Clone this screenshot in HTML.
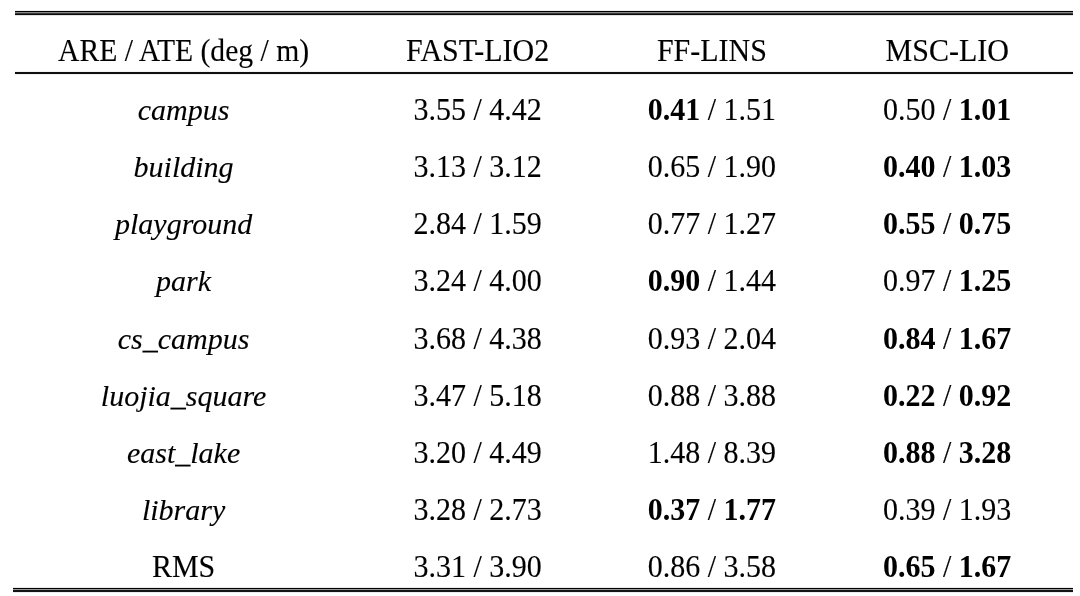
<!DOCTYPE html><html><head><meta charset="utf-8"><style>html,body{margin:0;padding:0;background:#fff;width:1080px;height:596px;overflow:hidden}svg{display:block}text{font-family:"Liberation Serif","Times New Roman",serif;font-size:30px;fill:#000;stroke:#000;stroke-width:0.12px;white-space:pre}tspan[font-weight]{stroke-width:0}</style></head><body>
<svg width="1080" height="596" viewBox="0 0 1080 596">
<rect x="15" y="10" width="1058" height="1" fill="#ededed"/>
<rect x="15" y="11" width="1058" height="1" fill="#000"/>
<rect x="15" y="12" width="1058" height="1" fill="#888"/>
<rect x="15" y="13" width="1058" height="1" fill="#3a3a3a"/>
<rect x="15" y="14" width="1058" height="1" fill="#0c0c0c"/>
<rect x="15" y="15" width="1058" height="1" fill="#e4e4e4"/>
<rect x="15" y="71" width="1058" height="1" fill="#f2f2f2"/>
<rect x="15" y="72" width="1058" height="2" fill="#0e0e0e"/>
<rect x="15" y="74" width="1058" height="1" fill="#f0f0f0"/>
<rect x="13" y="587" width="1060" height="1" fill="#e8e8e8"/>
<rect x="13" y="588" width="1060" height="1" fill="#000"/>
<rect x="13" y="589" width="1060" height="1" fill="#999"/>
<rect x="13" y="590" width="1060" height="2" fill="#141414"/>
<rect x="13" y="592" width="1060" height="1" fill="#ececec"/>
<text transform="translate(183.6 60.9) scale(0.988 1.045)" text-anchor="middle" xml:space="preserve">ARE / ATE (deg / m)</text>
<text transform="translate(477.6 60.9) scale(1 1.045)" text-anchor="middle" xml:space="preserve">FAST-LIO2</text>
<text transform="translate(711.9 60.9) scale(1 1.045)" text-anchor="middle" xml:space="preserve">FF-LINS</text>
<text transform="translate(947.2 60.9) scale(1 1.045)" text-anchor="middle" xml:space="preserve">MSC-LIO</text>
<text transform="translate(183.6 120.0) scale(1 1.0)" text-anchor="middle" font-style="italic">campus</text>
<text transform="translate(477.6 120.0) scale(1 1.08)" text-anchor="middle" xml:space="preserve">3.55 / 4.42</text>
<text transform="translate(711.9 120.0) scale(1 1.08)" text-anchor="middle" xml:space="preserve"><tspan font-weight="bold" stroke="none">0.41</tspan> / 1.51</text>
<text transform="translate(947.2 120.0) scale(1 1.08)" text-anchor="middle" xml:space="preserve">0.50 / <tspan font-weight="bold" stroke="none">1.01</tspan></text>
<text transform="translate(183.6 177.16) scale(1 1.0)" text-anchor="middle" font-style="italic">building</text>
<text transform="translate(477.6 177.16) scale(1 1.08)" text-anchor="middle" xml:space="preserve">3.13 / 3.12</text>
<text transform="translate(711.9 177.16) scale(1 1.08)" text-anchor="middle" xml:space="preserve">0.65 / 1.90</text>
<text transform="translate(947.2 177.16) scale(1 1.08)" text-anchor="middle" xml:space="preserve"><tspan font-weight="bold" stroke="none">0.40</tspan> / <tspan font-weight="bold" stroke="none">1.03</tspan></text>
<text transform="translate(183.6 234.32) scale(1 1.0)" text-anchor="middle" font-style="italic">playground</text>
<text transform="translate(477.6 234.32) scale(1 1.08)" text-anchor="middle" xml:space="preserve">2.84 / 1.59</text>
<text transform="translate(711.9 234.32) scale(1 1.08)" text-anchor="middle" xml:space="preserve">0.77 / 1.27</text>
<text transform="translate(947.2 234.32) scale(1 1.08)" text-anchor="middle" xml:space="preserve"><tspan font-weight="bold" stroke="none">0.55</tspan> / <tspan font-weight="bold" stroke="none">0.75</tspan></text>
<text transform="translate(183.6 291.48) scale(1 1.0)" text-anchor="middle" font-style="italic">park</text>
<text transform="translate(477.6 291.48) scale(1 1.08)" text-anchor="middle" xml:space="preserve">3.24 / 4.00</text>
<text transform="translate(711.9 291.48) scale(1 1.08)" text-anchor="middle" xml:space="preserve"><tspan font-weight="bold" stroke="none">0.90</tspan> / 1.44</text>
<text transform="translate(947.2 291.48) scale(1 1.08)" text-anchor="middle" xml:space="preserve">0.97 / <tspan font-weight="bold" stroke="none">1.25</tspan></text>
<text transform="translate(183.6 348.64) scale(1 1.0)" text-anchor="middle" font-style="italic">cs_campus</text>
<text transform="translate(477.6 348.64) scale(1 1.08)" text-anchor="middle" xml:space="preserve">3.68 / 4.38</text>
<text transform="translate(711.9 348.64) scale(1 1.08)" text-anchor="middle" xml:space="preserve">0.93 / 2.04</text>
<text transform="translate(947.2 348.64) scale(1 1.08)" text-anchor="middle" xml:space="preserve"><tspan font-weight="bold" stroke="none">0.84</tspan> / <tspan font-weight="bold" stroke="none">1.67</tspan></text>
<text transform="translate(183.6 405.8) scale(1 1.0)" text-anchor="middle" font-style="italic">luojia_square</text>
<text transform="translate(477.6 405.8) scale(1 1.08)" text-anchor="middle" xml:space="preserve">3.47 / 5.18</text>
<text transform="translate(711.9 405.8) scale(1 1.08)" text-anchor="middle" xml:space="preserve">0.88 / 3.88</text>
<text transform="translate(947.2 405.8) scale(1 1.08)" text-anchor="middle" xml:space="preserve"><tspan font-weight="bold" stroke="none">0.22</tspan> / <tspan font-weight="bold" stroke="none">0.92</tspan></text>
<text transform="translate(183.6 462.96) scale(1 1.0)" text-anchor="middle" font-style="italic">east_lake</text>
<text transform="translate(477.6 462.96) scale(1 1.08)" text-anchor="middle" xml:space="preserve">3.20 / 4.49</text>
<text transform="translate(711.9 462.96) scale(1 1.08)" text-anchor="middle" xml:space="preserve">1.48 / 8.39</text>
<text transform="translate(947.2 462.96) scale(1 1.08)" text-anchor="middle" xml:space="preserve"><tspan font-weight="bold" stroke="none">0.88</tspan> / <tspan font-weight="bold" stroke="none">3.28</tspan></text>
<text transform="translate(183.6 520.12) scale(1 1.0)" text-anchor="middle" font-style="italic">library</text>
<text transform="translate(477.6 520.12) scale(1 1.08)" text-anchor="middle" xml:space="preserve">3.28 / 2.73</text>
<text transform="translate(711.9 520.12) scale(1 1.08)" text-anchor="middle" xml:space="preserve"><tspan font-weight="bold" stroke="none">0.37</tspan> / <tspan font-weight="bold" stroke="none">1.77</tspan></text>
<text transform="translate(947.2 520.12) scale(1 1.08)" text-anchor="middle" xml:space="preserve">0.39 / 1.93</text>
<text transform="translate(183.6 577.28) scale(1 1.045)" text-anchor="middle">RMS</text>
<text transform="translate(477.6 577.28) scale(1 1.08)" text-anchor="middle" xml:space="preserve">3.31 / 3.90</text>
<text transform="translate(711.9 577.28) scale(1 1.08)" text-anchor="middle" xml:space="preserve">0.86 / 3.58</text>
<text transform="translate(947.2 577.28) scale(1 1.08)" text-anchor="middle" xml:space="preserve"><tspan font-weight="bold" stroke="none">0.65</tspan> / <tspan font-weight="bold" stroke="none">1.67</tspan></text>
</svg></body></html>
